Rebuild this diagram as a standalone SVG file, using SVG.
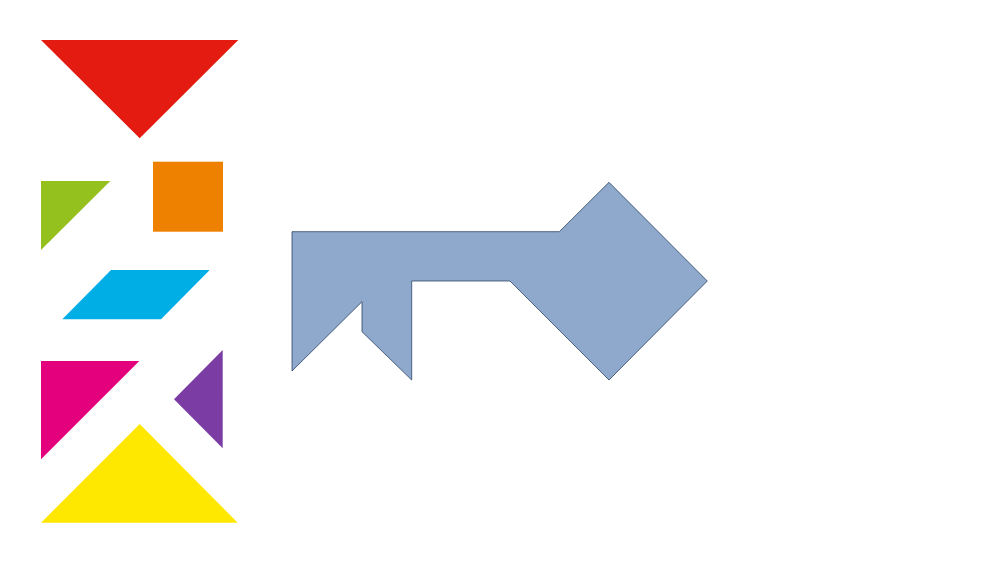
<svg xmlns="http://www.w3.org/2000/svg" width="1000" height="563" viewBox="0 0 1000 563">
<style>
.piece{stroke:none}
.key{fill:#8EA9CB;stroke:#2E4466;stroke-width:0.8;stroke-linejoin:miter}
</style>
<rect width="1000" height="563" fill="#FFFFFF"/>
<g id="red-triangle"><polygon class="piece" fill="#E31B10" points="41,40 238.3,40 139.7,138.3"/></g>
<g id="green-triangle"><polygon class="piece" fill="#95C11F" points="41,181 110.3,181 41,250"/></g>
<g id="orange-square"><rect class="piece" fill="#EE8100" x="153" y="161.7" width="70" height="70"/></g>
<g id="blue-parallelogram"><polygon class="piece" fill="#00AEE6" points="111,270 209.7,270 161,319.3 62.3,319.3"/></g>
<g id="magenta-triangle"><polygon class="piece" fill="#E4007C" points="41,361 139.3,361 41,459.3"/></g>
<g id="purple-triangle"><polygon class="piece" fill="#7B3CA4" points="222.7,350 174,399.3 222.7,448.3"/></g>
<g id="yellow-triangle"><polygon class="piece" fill="#FFE800" points="139.7,424 237.7,522.7 41,522.7"/></g>
<g id="key-shape"><polygon class="key" points="292,231.7 559.3,231.7 609,182.3 707.3,281 609,380 510,281 411.7,281 411.7,380 362,331.7 362,301.7 292,371"/></g>
<g id="connectors"></g>
</svg>
